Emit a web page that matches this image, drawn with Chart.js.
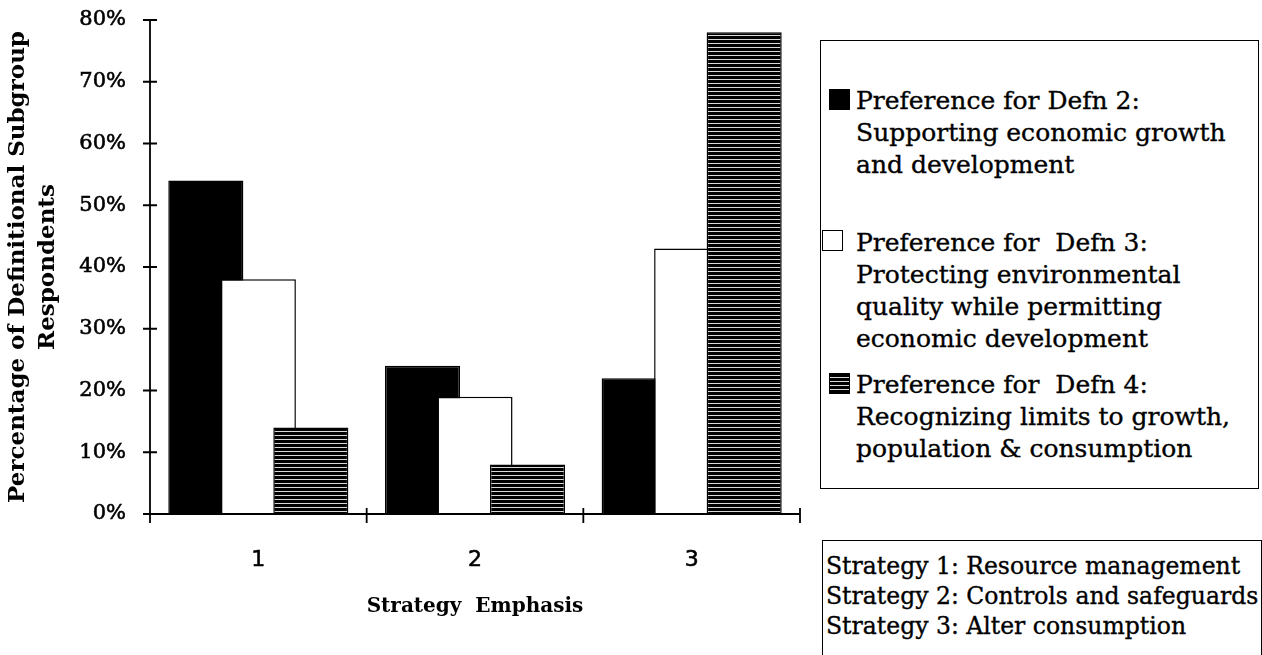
<!DOCTYPE html>
<html>
<head>
<meta charset="utf-8">
<script src="https://cdn.jsdelivr.net/npm/chart.js@4.4.1/dist/chart.umd.min.js"></script>
<style>
  html, body { margin: 0; padding: 0; background: #fff; }
  #wrap { position: relative; width: 1262px; height: 655px; overflow: hidden; }
  #chart { position: absolute; left: 0; top: 0; }
  .box { position: absolute; border: 1.5px solid #000; box-sizing: border-box; background: #fff;
         font-family: "DejaVu Serif", serif; color: #000; -webkit-text-stroke: 0.35px #000; }
  #legend { left: 820px; top: 40px; width: 439px; height: 449px; }
  #notes { left: 822px; top: 540px; width: 440px; height: 140px; }
  .item { position: absolute; left: 35px; font-size: 25px; line-height: 32px; white-space: pre; }
  .sw { position: absolute; width: 21px; height: 21px; box-sizing: border-box; border: 1.5px solid #000; }
  .note { position: absolute; left: 3px; font-size: 23.5px; line-height: 30px; white-space: pre; }
</style>
</head>
<body>
<div id="wrap">
  <canvas id="chart" width="1262" height="655"></canvas>
  <div class="box" id="legend"></div>
  <div class="box" id="notes"></div>
</div>
<script>
// Strategy categories on the x axis
const categories = ['1', '2', '3'];

// Share of each definitional subgroup (percent) per strategy
const defn2 = [54, 24, 22];
const defn3 = [38, 19, 43];
const defn4 = [14, 8, 78];

// Value axis
const yMin = 0;
const yMax = 80;
const yStep = 10;

// Text
const yTitle = ['Percentage of Definitional Subgroup', 'Respondents'];
const xTitle = 'Strategy  Emphasis';
const legendLines = [
  ['Preference for Defn 2:', 'Supporting economic growth', 'and development'],
  ['Preference for  Defn 3:', 'Protecting environmental', 'quality while permitting', 'economic development'],
  ['Preference for  Defn 4:', 'Recognizing limits to growth,', 'population & consumption']
];
const strategyNotes = [
  'Strategy 1: Resource management',
  'Strategy 2: Controls and safeguards',
  'Strategy 3: Alter consumption'
];

// Horizontal hatch fill for the third series
function hatch() {
  const c = document.createElement('canvas');
  c.width = 8; c.height = 4;
  const g = c.getContext('2d');
  g.fillStyle = '#000'; g.fillRect(0, 0, 8, 4);
  g.fillStyle = '#d9d9d9'; g.fillRect(0, 3, 8, 1);
  return g.createPattern(c, 'repeat');
}
const hatchFill = hatch();

// Paint datasets first-to-last so later series overlap earlier ones
const paintInOrder = {
  id: 'paintInOrder',
  beforeDatasetsDraw(chart) {
    chart.data.datasets.forEach((d, i) => chart.getDatasetMeta(i).controller.draw());
    return false;
  }
};

// Axis lines with tick marks crossing them
const crossAxes = {
  id: 'crossAxes',
  afterDraw(chart) {
    const { ctx, chartArea: a, scales: { x, y } } = chart;
    ctx.save();
    ctx.strokeStyle = '#000';
    ctx.lineWidth = 1.8;
    ctx.beginPath();
    ctx.moveTo(a.left, a.top);
    ctx.lineTo(a.left, a.bottom);
    ctx.lineTo(a.right, a.bottom);
    y.ticks.forEach(t => {
      const py = y.getPixelForValue(t.value);
      ctx.moveTo(a.left - 7, py);
      ctx.lineTo(a.left + 7, py);
    });
    for (let i = 0; i <= categories.length; i++) {
      const px = x.getPixelForValue(i - 0.5);
      ctx.moveTo(px, a.bottom - 6);
      ctx.lineTo(px, a.bottom + 9);
    }
    ctx.stroke();
    ctx.restore();
  }
};

const barStyle = { borderColor: '#000', borderWidth: 1.5, borderSkipped: 'bottom' };

new Chart(document.getElementById('chart'), {
  type: 'bar',
  data: {
    labels: categories,
    datasets: [
      { label: legendLines[0].join(' '), data: defn2, backgroundColor: '#000', ...barStyle },
      { label: legendLines[1].join(' '), data: defn3, backgroundColor: '#fff', ...barStyle },
      { label: legendLines[2].join(' '), data: defn4, backgroundColor: hatchFill, ...barStyle }
    ]
  },
  options: {
    responsive: false,
    animation: false,
    devicePixelRatio: 1,
    layout: { padding: { top: 20, left: 0, right: 462, bottom: 0 } },
    datasets: { bar: { categoryPercentage: 0.727, barPercentage: 1.43 } },
    plugins: { legend: { display: false }, tooltip: { enabled: false } },
    scales: {
      x: {
        grid: { display: false, drawTicks: false },
        border: { display: false },
        ticks: {
          color: '#000', padding: 33, textStrokeColor: '#000', textStrokeWidth: 0.6,
          font: { family: 'DejaVu Sans', size: 22 }
        },
        title: {
          display: true, text: xTitle, color: '#000',
          font: { family: 'DejaVu Serif', size: 20, weight: 'bold' },
          padding: { top: 0, bottom: 36 }
        },
        afterFit(s) { s.height = 141; }
      },
      y: {
        min: yMin, max: yMax,
        // invisible tick space keeps labels clear of the axis without extra top padding
        grid: { display: true, drawOnChartArea: false, drawTicks: true, tickLength: 22, tickColor: 'rgba(0,0,0,0)' },
        border: { display: false },
        ticks: {
          stepSize: yStep, color: '#000', padding: 2, textStrokeColor: '#000', textStrokeWidth: 0.6,
          font: { family: 'DejaVu Serif', size: 21 },
          callback: v => v + '%'
        },
        title: {
          display: true, text: yTitle, color: '#000',
          font: { family: 'DejaVu Serif', size: 23, weight: 'bold', lineHeight: 1.3 },
          padding: { top: 3, bottom: 0 }
        },
        afterFit(s) { s.width = 150; }
      }
    }
  },
  plugins: [paintInOrder, crossAxes]
});

// Legend panel
const legend = document.getElementById('legend');
const itemTops = [44, 186, 328];
const swatchSpots = [[8, 48], [1, 189], [8, 332]];
const swatchFills = ['#000', '#fff', 'repeating-linear-gradient(to bottom, #000 0px, #000 3px, #d9d9d9 3px, #d9d9d9 4px)'];
legendLines.forEach((lines, i) => {
  const sw = document.createElement('div');
  sw.className = 'sw';
  sw.style.left = swatchSpots[i][0] + 'px';
  sw.style.top = swatchSpots[i][1] + 'px';
  sw.style.background = swatchFills[i];
  legend.appendChild(sw);
  const it = document.createElement('div');
  it.className = 'item';
  it.style.top = itemTops[i] + 'px';
  it.textContent = lines.join('\n');
  legend.appendChild(it);
});

// Strategy key
const notes = document.getElementById('notes');
strategyNotes.forEach((t, i) => {
  const n = document.createElement('div');
  n.className = 'note';
  n.style.top = (10 + i * 30) + 'px';
  n.textContent = t;
  notes.appendChild(n);
});
</script>
</body>
</html>
